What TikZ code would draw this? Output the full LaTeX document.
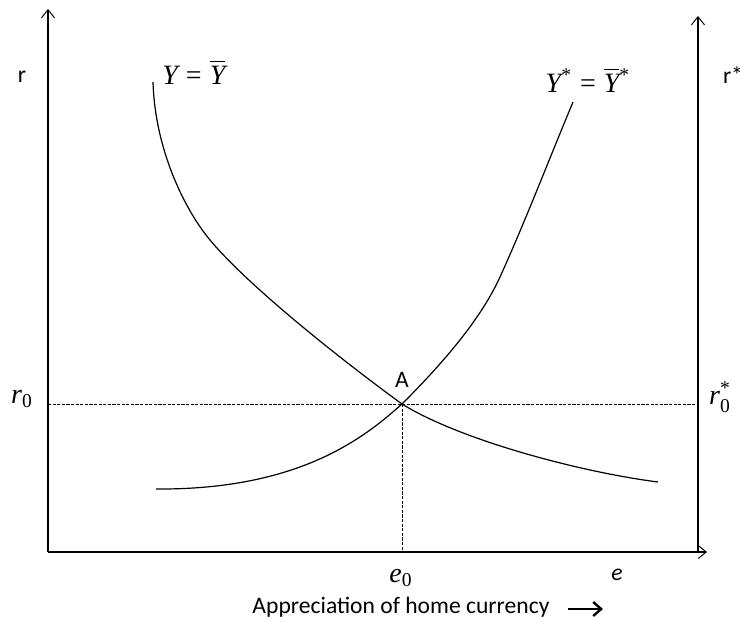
\documentclass[tikz,border=0pt]{standalone}
\usepackage{amsmath}
\usepackage{fontspec}
\setmainfont{Carlito}
\newfontfamily\tms{Liberation Serif}
\usetikzlibrary{arrows.meta}
\newcommand\tv[1]{\text{\tms\itshape #1}}
\newcommand\tu[1]{\text{\tms #1}}
\begin{document}
\begin{tikzpicture}[x=0.5pt,y=-0.5pt,
  axis/.style={line width=0.6pt,-{Straight Barb[length=4pt,width=6.5pt,line width=0.5pt]}},
  curve/.style={line width=0.6pt},
  guide/.style={line width=0.4pt,dash pattern=on 1.6pt off 0.7pt},
  sanslabel/.style={font=\fontsize{11.8}{14}\selectfont,inner sep=0pt},
  mathlabel/.style={font=\fontsize{14}{17}\selectfont,inner sep=0pt}]
\useasboundingbox (0,0) rectangle (741,617);
% axes
\coordinate (O) at (48,552);
\coordinate (Ltop) at (48,9);
\coordinate (Rbot) at (698,552);
\coordinate (Rtop) at (698,16);
\coordinate (Xend) at (707,552);
\draw[axis] (O) -- (Ltop);
\draw[axis] (Rbot) -- (Rtop);
\draw[axis] (O) -- (Xend);
% equilibrium
\coordinate (A) at (402,404);
\coordinate (r0L) at (48,404);
\coordinate (r0R) at (698,404);
\coordinate (e0) at (402,552);
\draw[guide] (r0L) -- (A) -- (r0R);
\draw[guide] (A) -- (e0);
% curves
\coordinate (IStop) at (153,82);
\coordinate (ISm) at (210,240);
\coordinate (ISend) at (658,482);
\draw[curve] (IStop) .. controls (155,150) and (185,210) .. (ISm)
  .. controls (250,288) and (347,364) .. (A)
  .. controls (460,440) and (580,472) .. (ISend);
\coordinate (ISsbot) at (156,489);
\coordinate (ISsm) at (500,277);
\coordinate (ISstop) at (573,102);
\draw[curve] (ISsbot) .. controls (300,490) and (365,437) .. (A)
  .. controls (440,366) and (480,321) .. (ISsm)
  .. controls (525,222) and (550,157) .. (ISstop);
% labels
\node[sanslabel] (r) at (22,77) {r};
\node[sanslabel] (rs) at (733,75) {r*};
\node[sanslabel] (Alab) at (402,380) {A};
\node[mathlabel,anchor=west] (IS) at (162,72) {$\tv{Y}\mathrel{\tu{=}}\overline{\tv{Y}}$};
\node[mathlabel] (ISs) at (588,80) {$\tv{Y}^{\tu{*}}\mathrel{\tu{=}}\overline{\tv{Y}}{}^{\tu{*}}$};
\node[mathlabel] (r0) at (22,399) {$\tv{r}_{\tu{0}}$};
\node[mathlabel] (r0s) at (720,397) {$\tv{r}_{\tu{0}}^{\tu{*}}$};
\node[mathlabel] (e0lab) at (401,578) {$\tv{e}_{\tu{0}}$};
\node[sanslabel,font=\fontsize{11.8}{14}\selectfont\itshape] (elab) at (617,575) {e};
\node[sanslabel] (xlab) at (401,607) {Appreciation of home currency};
\coordinate (a1) at (568,609);
\coordinate (a2) at (603,609);
\draw[line width=1.4pt,-{Straight Barb[length=4pt,width=7pt,line width=1.2pt]}] (a1) -- (a2);
\end{tikzpicture}
\end{document}
